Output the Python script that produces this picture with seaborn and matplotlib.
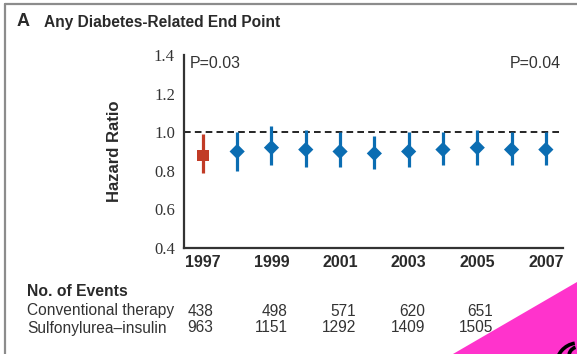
import matplotlib
matplotlib.use("Agg")
import matplotlib.pyplot as plt
import pandas as pd
import seaborn as sns
from matplotlib.lines import Line2D
from matplotlib.patches import Polygon, Arc

# Hazard ratios (sulfonylurea-insulin vs conventional therapy) by year
years = [1997, 1998, 1999, 2000, 2001, 2002, 2003, 2004, 2005, 2006, 2007]
hazard_ratio = [0.88, 0.90, 0.92, 0.91, 0.90, 0.89, 0.90, 0.91, 0.92, 0.91, 0.91]
ci_low = [0.79, 0.80, 0.83, 0.82, 0.82, 0.81, 0.82, 0.83, 0.83, 0.83, 0.83]
ci_high = [0.99, 1.00, 1.03, 1.01, 1.00, 0.98, 1.00, 1.00, 1.01, 1.00, 1.00]
period = ["trial"] + ["follow-up"] * 10

# Number of events table
event_years = [1997, 1999, 2001, 2003, 2005]
conventional_events = [438, 498, 571, 620, 651]
su_insulin_events = [963, 1151, 1292, 1409, 1505]

x_ticks = [1997, 1999, 2001, 2003, 2005, 2007]
y_ticks = [0.4, 0.6, 0.8, 1.0, 1.2, 1.4]

RED = "#c13b26"
BLUE = "#0b6db2"
TEXT = "#2a2a2a"

df = pd.DataFrame({"year": years, "hr": hazard_ratio, "lo": ci_low,
                   "hi": ci_high, "period": period})

sns.set_style("white")
plt.rcParams["font.family"] = ["Liberation Sans", "DejaVu Sans"]

W, H = 577, 354
fig = plt.figure(figsize=(W / 100, H / 100), dpi=100)


def fx(px):
    return px / W


def fy(py):
    return 1 - py / H


ax = fig.add_axes([fx(184), fy(248), fx(563) - fx(184), fy(55) - fy(248)])

# reference line at HR = 1
ax.axhline(1.0, color="black", lw=1.2, ls=(0, (4, 2.5)), zorder=1)

palette = {"trial": RED, "follow-up": BLUE}
ax.vlines(df["year"], df["lo"], df["hi"],
          colors=[palette[p] for p in df["period"]], lw=2.3, zorder=2)
sns.scatterplot(data=df, x="year", y="hr", hue="period", style="period",
                size="period", palette=palette,
                markers={"trial": "s", "follow-up": "D"},
                sizes={"trial": 68, "follow-up": 60},
                edgecolor="none", linewidth=0, legend=False, zorder=3, ax=ax)

ax.set_xlim(1996.45, 2007.5)
ax.set_ylim(0.4, 1.4)
ax.set_xticks(x_ticks)
ax.set_xticklabels([str(y) for y in x_ticks], fontsize=11.5,
                   fontweight="bold", color=TEXT)
ax.set_yticks(y_ticks)
ax.set_yticklabels([f"{v:.1f}" for v in y_ticks], fontsize=12,
                   family=["Liberation Serif", "DejaVu Serif"],
                   color="#333333")
ax.tick_params(axis="x", length=0, pad=5)
ax.tick_params(axis="y", length=5, width=1.1, color="#333333", pad=1.5)
ax.set_xlabel("")
ax.set_ylabel("Hazard Ratio", fontsize=12, fontweight="bold", color=TEXT)
ax.yaxis.set_label_coords(-0.163, 0.5)
for side in ("top", "right"):
    ax.spines[side].set_visible(False)
for side in ("left", "bottom"):
    ax.spines[side].set_linewidth(1.6)
    ax.spines[side].set_color("#333333")
ax.grid(False)

ax.text(0.015, 0.955, "P=0.03", transform=ax.transAxes, fontsize=11.5,
        color="#333333", ha="left", va="center")
ax.text(0.995, 0.955, "P=0.04", transform=ax.transAxes, fontsize=11.5,
        color="#333333", ha="right", va="center")

# title
fig.text(fx(17), fy(22), "A", fontsize=13, fontweight="bold",
         color=TEXT, va="center")
fig.text(fx(44), fy(22), "Any Diabetes-Related End Point", fontsize=11.2,
         fontweight="bold", color=TEXT, va="center")

# events table
fig.text(fx(27), fy(291), "No. of Events", fontsize=11.3, fontweight="bold",
         color=TEXT, va="center")
row_y = [fy(311), fy(328)]
fig.text(fx(27), row_y[0], "Conventional therapy", fontsize=11.2,
         color="#333333", va="center")
fig.text(fx(27), row_y[1], "Sulfonylurea\u2013insulin", fontsize=11.2,
         color="#333333", va="center")
blend = matplotlib.transforms.blended_transform_factory(ax.transData,
                                                         fig.transFigure)
for yr, c, s in zip(event_years, conventional_events, su_insulin_events):
    xr = yr + (0.3 if yr == 1997 else 0.47)
    ax.text(xr, row_y[0], str(c), transform=blend, ha="right", va="center",
            fontsize=11.2, color="#333333")
    ax.text(xr, row_y[1], str(s), transform=blend, ha="right", va="center",
            fontsize=11.2, color="#333333")

# panel frame
frame = dict(color="#8c8c8c", lw=1.6, transform=fig.transFigure)
fig.add_artist(Line2D([fx(5), fx(5)], [fy(4), 0], **frame))
fig.add_artist(Line2D([fx(5), 1], [fy(4), fy(4)], **frame))

# corner overlay
fig.add_artist(Polygon([[fx(453), 0], [1, fy(282)], [1, 0]], closed=True,
                       facecolor="#ff33cc", edgecolor="none",
                       transform=fig.transFigure, zorder=5))
fig.add_artist(Arc((fx(578), fy(366)), fx(44), 46 / H, theta1=95,
                   theta2=175, color="black", lw=2.6,
                   transform=fig.transFigure, zorder=6))
fig.add_artist(Arc((fx(578), fy(356)), fx(18), 18 / H, theta1=100,
                   theta2=200, color="black", lw=2.6,
                   transform=fig.transFigure, zorder=6))

fig.savefig("out.png", dpi=100)
